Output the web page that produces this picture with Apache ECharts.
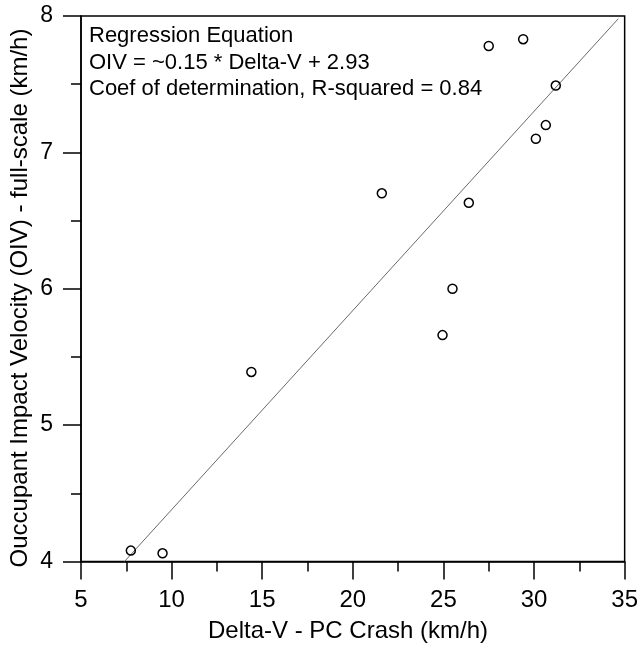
<!DOCTYPE html>
<html>
<head>
<meta charset="utf-8">
<script src="https://cdn.jsdelivr.net/npm/echarts@6/dist/echarts.min.js"></script>
<style>
html,body{margin:0;padding:0;background:#fff;}
#chart{width:641px;height:648px;}
</style>
</head>
<body>
<div id="chart"></div>
<script>
// Data
var deltaV = [7.75, 9.5, 14.4, 21.6, 24.95, 25.5, 26.4, 27.5, 29.4, 30.1, 30.65, 31.2];
var oiv    = [4.08, 4.06, 5.39, 6.70, 5.66, 6.00, 6.63, 7.78, 7.83, 7.10, 7.20, 7.49];
var fitX = [7.4, 34.65];
var fitY = [4.0, 7.98];
var xTicks = [5, 10, 15, 20, 25, 30, 35];
var yTicks = [4, 5, 6, 7, 8];
var noteLines = [
  'Regression Equation',
  'OIV = ~0.15 * Delta-V + 2.93',
  'Coef of determination, R-squared = 0.84'
];
var xTitle = 'Delta-V - PC Crash (km/h)';
var yTitle = 'Ouccupant Impact Velocity (OIV) - full-scale (km/h)';

var FONT = 'Liberation Sans, Arial, sans-serif';
var chart = echarts.init(document.getElementById('chart'), null, {renderer: 'canvas'});

var points = deltaV.map(function (x, i) { return [x, oiv[i]]; });
var fit = fitX.map(function (x, i) { return [x, fitY[i]]; });

var gridLeft = 81, gridTop = 16, gridRight = 16, gridBottom = 86.5;

var graphics = noteLines.map(function (t, i) {
  return {
    type: 'text',
    left: 89,
    top: 25 + i * 26.5,
    style: {text: t, font: '22px ' + FONT, fill: '#000'}
  };
});
graphics.push({
  type: 'text',
  x: 348, y: 631,
  style: {text: xTitle, font: '24px ' + FONT, fill: '#000', textAlign: 'center', textVerticalAlign: 'middle'}
});
graphics.push({
  type: 'text',
  x: 20, y: 298,
  rotation: Math.PI / 2,
  style: {text: yTitle, font: '24px ' + FONT, fill: '#000', textAlign: 'center', textVerticalAlign: 'middle'}
});

chart.setOption({
  backgroundColor: '#fff',
  animation: false,
  grid: {
    left: gridLeft, right: gridRight, top: gridTop, bottom: gridBottom,
    show: true, borderColor: '#000', borderWidth: 1.5, backgroundColor: 'transparent'
  },
  xAxis: {
    type: 'value',
    min: xTicks[0], max: xTicks[xTicks.length - 1], interval: 5,
    axisLine: {show: true, onZero: false, lineStyle: {color: '#000', width: 1.5}},
    axisTick: {show: true, inside: false, length: 18, lineStyle: {color: '#000', width: 1.5}},
    minorTick: {show: true, splitNumber: 2, length: 10, lineStyle: {color: '#000', width: 1.5}},
    axisLabel: {fontFamily: FONT, fontSize: 24, color: '#000', margin: 27},
    splitLine: {show: false}
  },
  yAxis: {
    type: 'value',
    min: yTicks[0], max: yTicks[yTicks.length - 1], interval: 1,
    axisLine: {show: true, onZero: false, lineStyle: {color: '#000', width: 1.5}},
    axisTick: {show: true, inside: false, length: 18, lineStyle: {color: '#000', width: 1.5}},
    minorTick: {show: true, splitNumber: 2, length: 10, lineStyle: {color: '#000', width: 1.5}},
    axisLabel: {fontFamily: FONT, fontSize: 23, color: '#000', margin: 28},
    splitLine: {show: false}
  },
  series: [
    {
      type: 'line',
      data: fit,
      symbol: 'none',
      lineStyle: {color: '#6a6a6a', width: 1},
      z: 2,
      silent: true
    },
    {
      type: 'scatter',
      data: points,
      symbol: 'circle',
      symbolSize: 9,
      itemStyle: {color: 'rgba(0,0,0,0)', borderColor: '#000', borderWidth: 1.5, opacity: 1},
      z: 3
    }
  ],
  graphic: graphics
});
</script>
</body>
</html>
